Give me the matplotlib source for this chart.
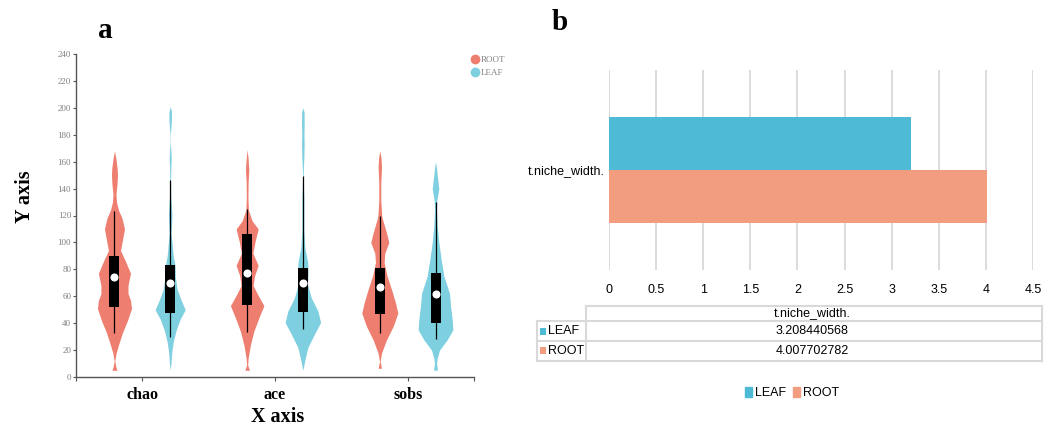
import numpy as np
import matplotlib
matplotlib.use("Agg")
import matplotlib.pyplot as plt
from matplotlib.lines import Line2D
from matplotlib.patches import Patch, Rectangle
from matplotlib.ticker import FuncFormatter

# ---- panel a: violin data (value grid + density) ----
groups = ['chao', 'ace', 'sobs']
series = ['ROOT', 'LEAF']

chao_root_y = [5, 8, 12, 18, 25, 33, 42, 51, 57, 62, 68, 77, 86, 94, 102, 110, 118, 124, 130, 136, 143, 150, 155, 162, 168]
chao_root_d = [2.5, 1.2, 0.3, 1.7, 4.5, 8, 13, 17, 16, 13.5, 13.5, 16, 11, 6, 8, 10, 7.5, 4, 2, 1.5, 2.5, 3, 2.7, 1.5, 0]
chao_leaf_y = [5, 10, 18, 26, 35, 43, 50, 57, 65, 75, 82, 90, 100, 107, 114, 120, 127, 135, 145, 155, 162, 168, 174, 180, 186, 192, 197, 201]
chao_leaf_d = [0, 0.8, 1.5, 3, 6, 10, 15, 11, 7, 5, 5, 3, 1.8, 0.9, 1.4, 1.7, 1.2, 0.6, 0.4, 0.6, 1.0, 0.7, 0.15, 0.15, 0.8, 1.3, 1.3, 0]
ace_root_y = [5, 9, 14, 24, 34, 44, 53, 62, 68, 75, 83, 92, 101, 110, 116, 124, 133, 145, 154, 162, 169]
ace_root_d = [2.3, 0.5, 1, 3.3, 6.7, 11.7, 16.7, 10, 6, 7.3, 11, 5.7, 8, 11, 5, 1.3, 0.8, 1, 1.7, 1, 0]
ace_leaf_y = [5, 12.5, 22, 32, 40.5, 49, 59, 69, 79, 86, 96, 109, 121, 133, 148, 155, 163, 173, 180, 188, 197, 200]
ace_leaf_d = [0, 2, 5, 11.7, 17.7, 15, 8.3, 4.7, 5.3, 4.7, 2, 1, 1, 1, 0.3, 0.5, 1, 1.3, 1.1, 1.3, 1.2, 0]
sobs_root_y = [6.5, 11.6, 17.8, 27.7, 37.6, 47.5, 55, 65, 75, 85, 92, 100, 107, 119, 131, 144, 156, 163, 168]
sobs_root_d = [1.7, 0.3, 1.7, 6.7, 13.3, 18, 15.7, 11.7, 7.3, 4.3, 5, 9, 6.7, 2, 1, 1, 1.7, 1.2, 0]
sobs_leaf_y = [5, 7, 10, 14, 20, 27.7, 35, 42.6, 52.5, 62, 75, 87, 100, 112, 124, 131, 140, 150, 155, 160]
sobs_leaf_d = [1.7, 1.7, 1, 1.7, 4, 11.7, 17.3, 16.7, 15, 14, 8.3, 5.7, 3.3, 1.7, 1, 1.3, 3.3, 1.7, 1, 0]

# box plot stats per group
root_whislo = [33, 33.5, 32.5]
root_q1 = [52, 53.5, 47]
root_med = [74, 77.5, 67]
root_q3 = [90, 106, 81]
root_whishi = [123.5, 125, 119.5]
leaf_whislo = [30, 35.5, 28]
leaf_q1 = [47.5, 48, 40]
leaf_med = [70, 70, 61.5]
leaf_q3 = [83, 81, 77.5]
leaf_whishi = [146.5, 149, 130]

# ---- panel b data ----
niche_category = 't.niche_width.'
niche_series = ['LEAF', 'ROOT']
niche_values = [3.208440568, 4.007702782]

ROOT_C = '#EE7E70'
LEAF_C = '#7ECFE0'
BAR_LEAF = '#4EBAD5'
BAR_ROOT = '#F29D80'
GRID = '#d9d9d9'
SERIF = 'Liberation Serif'
SANS = 'Liberation Sans'

W, H = 1061, 426
fig = plt.figure(figsize=(W / 100, H / 100), dpi=100)


def px_axes(x0, y0, x1, y1):
    return fig.add_axes([x0 / W, 1 - y1 / H, (x1 - x0) / W, (y1 - y0) / H])


# ================= panel a =================
ax = px_axes(76, 54, 474, 377)
centers = np.arange(len(groups)) + 0.5
offset = 0.21
half_max = 0.136

profiles = {
    'ROOT': [(chao_root_y, chao_root_d), (ace_root_y, ace_root_d), (sobs_root_y, sobs_root_d)],
    'LEAF': [(chao_leaf_y, chao_leaf_d), (ace_leaf_y, ace_leaf_d), (sobs_leaf_y, sobs_leaf_d)],
}
dmax = max(max(d) for s in profiles.values() for _, d in s)

stats = {
    'ROOT': (root_whislo, root_q1, root_med, root_q3, root_whishi),
    'LEAF': (leaf_whislo, leaf_q1, leaf_med, leaf_q3, leaf_whishi),
}
colors = {'ROOT': ROOT_C, 'LEAF': LEAF_C}

for k, s in enumerate(series):
    xs = centers + (-offset if s == 'ROOT' else offset)
    for i, (yv, dv) in enumerate(profiles[s]):
        yv = np.array(yv, float)
        hw = np.array(dv, float) / dmax * half_max
        ax.fill_betweenx(yv, xs[i] - hw, xs[i] + hw, color=colors[s], lw=0, zorder=2)
    lo, q1, med, q3, hi = [np.array(a, float) for a in stats[s]]
    ax.vlines(xs, lo, hi, color='black', lw=0.9, zorder=3)
    ax.bar(xs, q3 - q1, bottom=q1, width=0.075, color='black', zorder=4)
    ax.scatter(xs, med, s=34, color='white', zorder=5, lw=0)

ax.set_xlim(0, 3)
ax.set_ylim(0, 240)
ax.set_yticks(np.arange(0, 241, 20))
for sp in ['top', 'right']:
    ax.spines[sp].set_visible(False)
for sp in ['left', 'bottom']:
    ax.spines[sp].set_color('#555555')
    ax.spines[sp].set_linewidth(1.0)
ax.tick_params(axis='y', length=2.5, width=0.8, color='#555555', labelsize=6.5,
               labelcolor='#808080', pad=1)
for lb in ax.get_yticklabels():
    lb.set_family(SERIF)
ax.set_xticks(centers)
ax.set_xticklabels(groups, fontsize=11.5, fontweight='bold', family=SERIF)
ax.set_xticks([0, 3], minor=True)
ax.tick_params(axis='x', which='both', length=3, width=0.8, color='#555555', pad=4)

fig.text(278 / W, 1 - 417 / H, 'X axis', fontsize=14.5, fontweight='bold', family=SERIF,
         ha='center', va='center')
fig.text(25 / W, 1 - 197 / H, 'Y axis', fontsize=14.5, fontweight='bold', family=SERIF,
         ha='center', va='center', rotation=90)
fig.text(105 / W, 1 - 30 / H, 'a', fontsize=21, fontweight='bold', family=SERIF,
         ha='center', va='center')

handles = [Line2D([], [], marker='o', ls='', color=colors[s], markersize=6) for s in series]
ax.legend(handles, series, loc='upper left', bbox_to_anchor=(471 / W, 1 - 56 / H),
          bbox_transform=fig.transFigure, frameon=False, handlelength=0.8,
          handletextpad=0.3, labelspacing=0.5, borderpad=0, borderaxespad=0,
          prop={'family': SERIF, 'size': 6.5}, labelcolor='#808080')

# ================= panel b =================
ax2 = px_axes(609, 70, 1033, 270)
bar_h = 0.525
ypos = [bar_h / 2, -bar_h / 2]
ax2.barh(ypos, niche_values, height=bar_h, color=[BAR_LEAF, BAR_ROOT], zorder=2)
ax2.set_xlim(0, 4.5)
ax2.set_ylim(-1, 1)
ax2.set_xticks(np.arange(0, 4.51, 0.5))
ax2.xaxis.set_major_formatter(FuncFormatter(lambda v, p: f'{v:g}'))
ax2.grid(axis='x', color=GRID, lw=1.3)
ax2.set_axisbelow(True)
for sp in ax2.spines.values():
    sp.set_visible(False)
ax2.set_yticks([0])
ax2.set_yticklabels([niche_category])
ax2.tick_params(axis='x', length=0, pad=10, labelsize=9)
ax2.tick_params(axis='y', length=0, pad=3, labelsize=9)
for lb in ax2.get_xticklabels() + ax2.get_yticklabels():
    lb.set_family(SANS)

fig.text(560 / W, 1 - 23 / H, 'b', fontsize=21, fontweight='bold', family=SERIF,
         ha='center', va='center')

# data table under the chart (overlay in pixel units)
tab = fig.add_axes([0, 0, 1, 1])
tab.set_xlim(0, W)
tab.set_ylim(H, 0)
tab.axis('off')
tl, tc, tr = 536.7, 585.7, 1042
rows_y = [306, 321, 341, 360.5]
tab.plot([tc, tr], [rows_y[0], rows_y[0]], color=GRID, lw=1.5)
for yy in rows_y[1:]:
    tab.plot([tl, tr], [yy, yy], color=GRID, lw=1.5)
tab.plot([tl, tl], [rows_y[1], rows_y[3]], color=GRID, lw=1.5)
tab.plot([tc, tc], [rows_y[0], rows_y[3]], color=GRID, lw=1.5)
tab.plot([tr, tr], [rows_y[0], rows_y[3]], color=GRID, lw=1.5)
mid = 812
tab.text(mid, (rows_y[0] + rows_y[1]) / 2, niche_category, fontsize=9, family=SANS,
         ha='center', va='center')
for j, (name, val, c) in enumerate(zip(niche_series, niche_values, [BAR_LEAF, BAR_ROOT])):
    yc = (rows_y[j + 1] + rows_y[j + 2]) / 2
    tab.add_patch(Rectangle((539.5, yc - 3.5), 6.5, 7, color=c, lw=0))
    tab.text(548, yc, name, fontsize=9, family=SANS, ha='left', va='center')
    tab.text(mid, yc, f'{val:.9f}', fontsize=9, family=SANS, ha='center', va='center')

leg_handles = [Patch(color=c) for c in [BAR_LEAF, BAR_ROOT]]
fig.legend(leg_handles, niche_series, loc='center', bbox_to_anchor=(792 / W, 1 - 393 / H),
           ncol=2, frameon=False, handlelength=0.55, handleheight=0.9,
           handletextpad=0.2, columnspacing=0.6, prop={'family': SANS, 'size': 9})

fig.savefig('out.png', dpi=100)
